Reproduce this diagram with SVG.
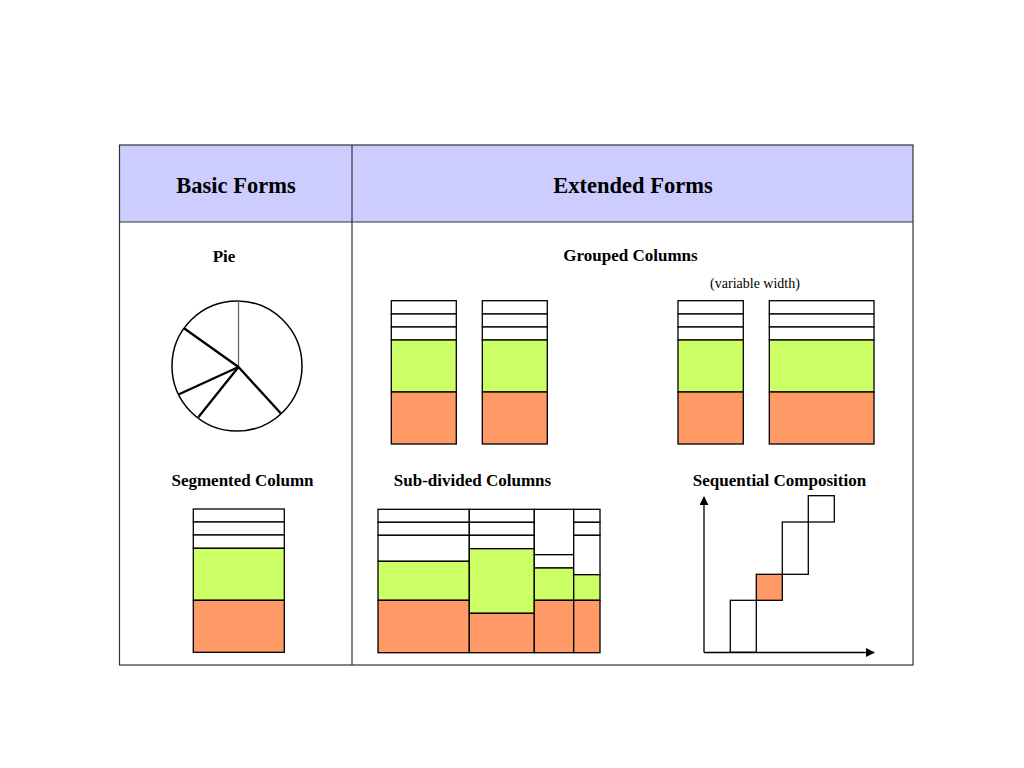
<svg xmlns="http://www.w3.org/2000/svg" width="1024" height="768" viewBox="0 0 1024 768">
<style>
.hdr{font-family:"Liberation Serif","Times New Roman",serif;font-weight:bold;font-size:22.5px;fill:#000;text-anchor:middle}
.lbl{font-family:"Liberation Serif","Times New Roman",serif;font-weight:bold;font-size:17px;fill:#000;text-anchor:middle}
.sub{font-family:"Liberation Serif","Times New Roman",serif;font-size:14px;fill:#000;text-anchor:middle}
.w{fill:#fff;stroke:#000;stroke-width:1.3}
.g{fill:#CCFF66;stroke:#000;stroke-width:1.3}
.o{fill:#FF9966;stroke:#000;stroke-width:1.3}
.ln{stroke:#000;stroke-width:1.3;fill:none}
.grid{stroke:#333;stroke-width:1.2;fill:none}
</style>
<defs>
<marker id="ah" viewBox="0 0 10 10" refX="9" refY="5" markerWidth="9" markerHeight="9" markerUnits="userSpaceOnUse" orient="auto">
<path d="M0,0 L10,5 L0,10 z" fill="#000"/>
</marker>
</defs>
<rect width="1024" height="768" fill="#fff"/>

<g id="table">
<rect x="119.5" y="145" width="793.5" height="77" fill="#CCCCFF"/>
<rect x="119.5" y="145" width="793.5" height="520" class="grid"/>
<line x1="119.5" y1="222" x2="913" y2="222" class="grid"/>
<line x1="352" y1="145" x2="352" y2="665" class="grid"/>
<text x="236" y="193" class="hdr">Basic Forms</text>
<text x="633" y="193" class="hdr">Extended Forms</text>
</g>

<g id="pie">
<text x="224" y="262" class="lbl">Pie</text>
<circle cx="237" cy="366" r="65" fill="#fff" stroke="#000" stroke-width="1.5"/>
<line x1="238.5" y1="301" x2="238.5" y2="367" stroke="#666" stroke-width="1.3"/>
<line x1="238.5" y1="367" x2="280.7" y2="413.3" stroke="#000" stroke-width="2.3"/>
<line x1="238.5" y1="367" x2="198.3" y2="417.3" stroke="#000" stroke-width="2.3"/>
<line x1="238.5" y1="367" x2="179" y2="394.3" stroke="#000" stroke-width="2.3"/>
<line x1="238.5" y1="367" x2="184" y2="328.3" stroke="#000" stroke-width="2.3"/>
</g>

<g id="segmented-column">
<text x="242.5" y="486" class="lbl">Segmented Column</text>
<rect x="193.3" y="509" width="91" height="13" class="w"/>
<rect x="193.3" y="522" width="91" height="13" class="w"/>
<rect x="193.3" y="535" width="91" height="13.3" class="w"/>
<rect x="193.3" y="548.3" width="91" height="52" class="g"/>
<rect x="193.3" y="600.3" width="91" height="52" class="o"/>
</g>

<g id="grouped-columns">
<text x="630.5" y="261" class="lbl">Grouped Columns</text>
<text x="755" y="288" class="sub">(variable width)</text>
<g id="gc1">
<rect x="391.3" y="300.7" width="65" height="13.3" class="w"/>
<rect x="391.3" y="314" width="65" height="13" class="w"/>
<rect x="391.3" y="327" width="65" height="13" class="w"/>
<rect x="391.3" y="340" width="65" height="52" class="g"/>
<rect x="391.3" y="392" width="65" height="52" class="o"/>
</g>
<g id="gc2">
<rect x="482.3" y="300.7" width="65" height="13.3" class="w"/>
<rect x="482.3" y="314" width="65" height="13" class="w"/>
<rect x="482.3" y="327" width="65" height="13" class="w"/>
<rect x="482.3" y="340" width="65" height="52" class="g"/>
<rect x="482.3" y="392" width="65" height="52" class="o"/>
</g>
<g id="gc3">
<rect x="678" y="300.7" width="65.3" height="13.3" class="w"/>
<rect x="678" y="314" width="65.3" height="13" class="w"/>
<rect x="678" y="327" width="65.3" height="13" class="w"/>
<rect x="678" y="340" width="65.3" height="52" class="g"/>
<rect x="678" y="392" width="65.3" height="52" class="o"/>
</g>
<g id="gc4">
<rect x="769.3" y="300.7" width="104.7" height="13.3" class="w"/>
<rect x="769.3" y="314" width="104.7" height="13" class="w"/>
<rect x="769.3" y="327" width="104.7" height="13" class="w"/>
<rect x="769.3" y="340" width="104.7" height="52" class="g"/>
<rect x="769.3" y="392" width="104.7" height="52" class="o"/>
</g>
</g>

<g id="sub-divided-columns">
<text x="472.5" y="486" class="lbl">Sub-divided Columns</text>
<g id="sd1">
<rect x="378" y="509.3" width="91.3" height="13" class="w"/>
<rect x="378" y="522.3" width="91.3" height="13" class="w"/>
<rect x="378" y="535.3" width="91.3" height="26" class="w"/>
<rect x="378" y="561.3" width="91.3" height="39" class="g"/>
<rect x="378" y="600.3" width="91.3" height="52.4" class="o"/>
</g>
<g id="sd2">
<rect x="469.3" y="509.3" width="65" height="13" class="w"/>
<rect x="469.3" y="522.3" width="65" height="13" class="w"/>
<rect x="469.3" y="535.3" width="65" height="13.4" class="w"/>
<rect x="469.3" y="548.7" width="65" height="64.6" class="g"/>
<rect x="469.3" y="613.3" width="65" height="39.4" class="o"/>
</g>
<g id="sd3">
<rect x="534.3" y="509.3" width="39.4" height="45.4" class="w"/>
<rect x="534.3" y="554.7" width="39.4" height="13.3" class="w"/>
<rect x="534.3" y="568" width="39.4" height="32.3" class="g"/>
<rect x="534.3" y="600.3" width="39.4" height="52.4" class="o"/>
</g>
<g id="sd4">
<rect x="573.7" y="509.3" width="26.3" height="13" class="w"/>
<rect x="573.7" y="522.3" width="26.3" height="13" class="w"/>
<rect x="573.7" y="535.3" width="26.3" height="39.4" class="w"/>
<rect x="573.7" y="574.7" width="26.3" height="25.6" class="g"/>
<rect x="573.7" y="600.3" width="26.3" height="52.4" class="o"/>
</g>
</g>

<g id="sequential-composition">
<text x="779.5" y="486" class="lbl">Sequential Composition</text>
<rect x="730.3" y="600.3" width="26" height="52" class="w"/>
<rect x="756.3" y="574.3" width="26" height="26" class="o"/>
<rect x="782.3" y="522" width="26" height="52.3" class="w"/>
<rect x="808.3" y="495.7" width="26" height="26.3" class="w"/>
</g>

<g id="connectors">
<line x1="704" y1="652.5" x2="704" y2="497" class="ln" marker-end="url(#ah)"/>
<line x1="704" y1="652.5" x2="874" y2="652.5" class="ln" marker-end="url(#ah)"/>
</g>
</svg>
